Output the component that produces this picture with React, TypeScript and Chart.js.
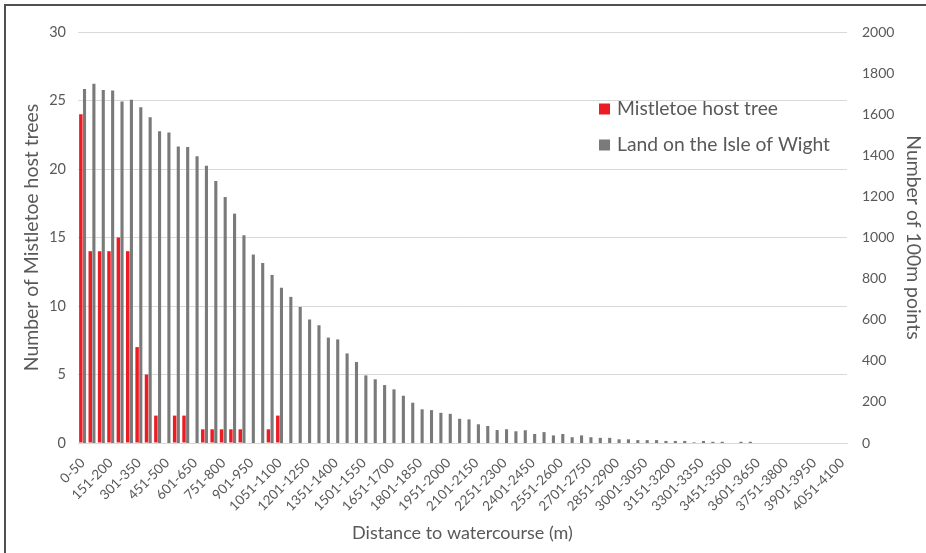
import { useEffect, useRef } from "react";
import { Chart, registerables } from "chart.js";

Chart.register(...registerables);

const categories = [
  "0-50", "51-100", "101-150", "151-200", "201-250", "251-300", "301-350", "351-400", "401-450", "451-500",
  "501-550", "551-600", "601-650", "651-700", "701-750", "751-800", "801-850", "851-900", "901-950", "951-1000",
  "1001-1050", "1051-1100", "1101-1150", "1151-1200", "1201-1250", "1251-1300", "1301-1350", "1351-1400", "1401-1450", "1451-1500",
  "1501-1550", "1551-1600", "1601-1650", "1651-1700", "1701-1750", "1751-1800", "1801-1850", "1851-1900", "1901-1950", "1951-2000",
  "2001-2050", "2051-2100", "2101-2150", "2151-2200", "2201-2250", "2251-2300", "2301-2350", "2351-2400", "2401-2450", "2451-2500",
  "2501-2550", "2551-2600", "2601-2650", "2651-2700", "2701-2750", "2751-2800", "2801-2850", "2851-2900", "2901-2950", "2951-3000",
  "3001-3050", "3051-3100", "3101-3150", "3151-3200", "3201-3250", "3251-3300", "3301-3350", "3351-3400", "3401-3450", "3451-3500",
  "3501-3550", "3551-3600", "3601-3650", "3651-3700", "3701-3750", "3751-3800", "3801-3850", "3851-3900", "3901-3950", "3951-4000",
  "4001-4050", "4051-4100",
];

const mistletoeHostTrees = [
  24, 14, 14, 14, 15, 14, 7, 5, 2, 0,
  2, 2, 0, 1, 1, 1, 1, 1, 0, 0,
  1, 2, 0, 0, 0, 0, 0, 0, 0, 0,
  0, 0, 0, 0, 0, 0, 0, 0, 0, 0,
  0, 0, 0, 0, 0, 0, 0, 0, 0, 0,
  0, 0, 0, 0, 0, 0, 0, 0, 0, 0,
  0, 0, 0, 0, 0, 0, 0, 0, 0, 0,
  0, 0, 0, 0, 0, 0, 0, 0, 0, 0,
  0, 0,
];

const landPoints = [
  1723, 1748, 1718, 1715, 1662, 1670, 1634, 1585, 1517, 1511,
  1443, 1440, 1395, 1349, 1275, 1197, 1116, 1011, 917, 876,
  818, 756, 711, 662, 601, 573, 513, 504, 436, 394,
  329, 310, 282, 261, 230, 196, 164, 160, 147, 142,
  118, 115, 91, 83, 63, 67, 57, 62, 44, 53,
  37, 44, 28, 37, 28, 25, 25, 18, 18, 14,
  14, 14, 10, 10, 10, 3, 10, 6, 6, 0,
  6, 6, 0, 0, 0, 0, 0, 0, 0, 0,
  0, 0,
];

const seriesNames = ["Mistletoe host tree", "Land on the Isle of Wight"];
const seriesColors = ["#EC1C24", "#7A7A7A"];

const FONT = "Lato, 'Open Sans', sans-serif";
const TEXT = "#595959";

export default function App() {
  const ref = useRef<HTMLCanvasElement>(null);

  useEffect(() => {
    const canvas = ref.current;
    if (!canvas) return;

    const legendPlugin = {
      id: "insideLegend",
      afterDraw(chart: any) {
        const ctx = chart.ctx;
        ctx.save();
        chart.data.datasets.forEach((ds: any, i: number) => {
          const cy = 109 + i * 36;
          ctx.fillStyle = ds.backgroundColor;
          ctx.fillRect(599, cy - 5.5, 11, 11);
          ctx.fillStyle = TEXT;
          ctx.font = `19.3px ${FONT}`;
          ctx.textBaseline = "middle";
          ctx.textAlign = "left";
          ctx.fillText(ds.label, 617, cy);
        });
        ctx.restore();
      },
    };

    const chart = new Chart(canvas, {
      type: "bar",
      data: {
        labels: categories,
        datasets: [
          {
            label: seriesNames[0],
            data: mistletoeHostTrees,
            backgroundColor: seriesColors[0],
            yAxisID: "y",
            categoryPercentage: 0.78,
            barPercentage: 0.95,
          },
          {
            label: seriesNames[1],
            data: landPoints,
            backgroundColor: seriesColors[1],
            yAxisID: "y1",
            categoryPercentage: 0.78,
            barPercentage: 0.85,
          },
        ],
      },
      options: {
        animation: false,
        responsive: false,
        devicePixelRatio: 1,
        layout: { padding: { top: 32, left: 0, right: 0, bottom: 0 } },
        plugins: {
          legend: { display: false },
          tooltip: { enabled: false },
        },
        scales: {
          x: {
            type: "category",
            grid: { display: false, drawTicks: false },
            border: { display: true, color: "#D9D9D9" },
            ticks: {
              autoSkip: false,
              minRotation: 45,
              maxRotation: 45,
              padding: 12,
              color: TEXT,
              font: { family: FONT, size: 13.5 },
              callback: (_v: any, i: number) => (i % 3 === 0 ? categories[i] : ""),
            },
            title: {
              display: true,
              text: "Distance to watercourse (m)",
              color: TEXT,
              font: { family: FONT, size: 18 },
              padding: { top: 0, bottom: 9 },
            },
            afterFit: (s: any) => {
              s.height = 110;
            },
          },
          y: {
            position: "left",
            min: 0,
            max: 30,
            ticks: {
              stepSize: 5,
              padding: 12,
              color: TEXT,
              font: { family: FONT, size: 14.5 },
            },
            grid: { color: "#D9D9D9", drawTicks: false },
            border: { display: false },
            title: {
              display: true,
              text: "Number of Mistletoe host trees",
              color: TEXT,
              font: { family: FONT, size: 19.4 },
              padding: { top: 20, bottom: 0 },
            },
            afterFit: (s: any) => {
              s.width = 78;
            },
          },
          y1: {
            position: "right",
            min: 0,
            max: 2000,
            ticks: {
              stepSize: 200,
              padding: 15,
              color: TEXT,
              font: { family: FONT, size: 14 },
              callback: (v: any) => String(v),
            },
            grid: { display: false, drawTicks: false },
            border: { display: false },
            title: {
              display: true,
              text: "Number of 100m points",
              color: TEXT,
              font: { family: FONT, size: 19.4 },
              padding: { top: 1.5, bottom: 0 },
            },
            afterFit: (s: any) => {
              s.width = 79;
            },
          },
        },
      },
      plugins: [legendPlugin],
    });

    return () => chart.destroy();
  }, []);

  return (
    <div style={{ position: "absolute", left: 0, top: 0, width: 926, height: 553, background: "#fff" }}>
      <canvas ref={ref} width={926} height={553} style={{ display: "block" }} />
      <div
        style={{
          position: "absolute",
          left: 4,
          top: 4,
          width: 922,
          height: 549,
          borderTop: "2px solid #505050",
          borderLeft: "2px solid #505050",
          pointerEvents: "none",
        }}
      />
    </div>
  );
}
